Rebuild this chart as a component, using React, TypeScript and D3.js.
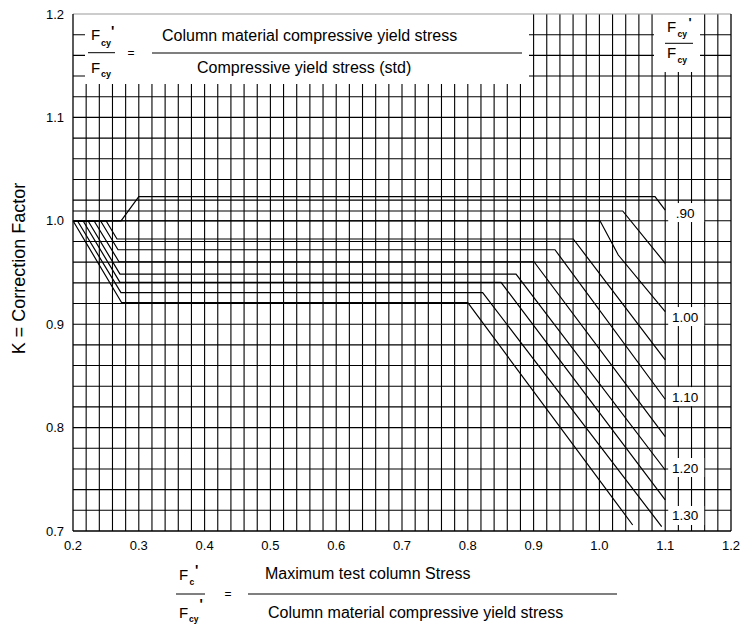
import { scaleLinear, line, range } from 'd3';

// ---- data ----
const xTicks = [0.2, 0.3, 0.4, 0.5, 0.6, 0.7, 0.8, 0.9, 1.0, 1.1, 1.2];
const yTicks = [0.7, 0.8, 0.9, 1.0, 1.1, 1.2];

// each curve: [Fc'/Fcy', K] break points, one per Fcy'/Fcy ratio
const curve090: [number, number][] = [[0.2, 1.0], [0.273, 1.0], [0.3, 1.0233], [1.0845, 1.0233], [1.1, 1.0104]];
const curve095: [number, number][] = [[0.2, 1.0095], [1.0354, 1.0095], [1.1, 0.9589]];
const curve100: [number, number][] = [[0.2, 1.0], [1.0009, 1.0], [1.0287, 0.9669], [1.1, 0.9121]];
const curve105: [number, number][] = [[0.2, 1.0], [0.2502, 1.0], [0.2669, 0.9824], [0.9603, 0.9824], [1.1, 0.8654]];
const curve110: [number, number][] = [[0.2, 1.0], [0.2418, 1.0], [0.2684, 0.972], [0.9325, 0.972], [1.1, 0.8274]];
const curve115: [number, number][] = [[0.2, 1.0], [0.2319, 1.0], [0.2699, 0.9604], [0.9006, 0.9604], [1.1, 0.7912]];
const curve120: [number, number][] = [[0.2, 1.0], [0.2228, 1.0], [0.2714, 0.9485], [0.8733, 0.9485], [1.1, 0.759]];
const curve125: [number, number][] = [[0.2, 1.0], [0.2152, 1.0], [0.2714, 0.9405], [0.8505, 0.9405], [1.1, 0.73]];
const curve130: [number, number][] = [[0.2, 1.0], [0.2067, 1.0], [0.2729, 0.9305], [0.8226, 0.9305], [1.0947, 0.7042]];
const curve135: [number, number][] = [[0.2, 1.0], [0.274, 0.9208], [0.8, 0.9208], [1.0506, 0.7058]];

const curves = [curve090, curve095, curve100, curve105, curve110, curve115, curve120, curve125, curve130, curve135];

// ratio labels and the K level they sit at (right of x = 1.1)
const curveLabelText = ['.90', '1.00', '1.10', '1.20', '1.30'];
const curveLabelK = [1.008, 0.9074, 0.83, 0.7614, 0.715];

const FONT = 'Arial, "Liberation Sans", Helvetica, sans-serif';

export default function App() {
  const width = 752;
  const height = 633;
  const margin = { top: 14, right: 21, bottom: 102, left: 73 };

  const x = scaleLinear().domain([0.2, 1.2]).range([margin.left, width - margin.right]);
  const y = scaleLinear().domain([0.7, 1.2]).range([height - margin.bottom, margin.top]);

  const gridX = range(11, 60).map((i) => i / 50);
  const gridY = range(36, 60).map((i) => i / 50);

  const lineGen = line<[number, number]>()
    .x((d) => x(d[0]))
    .y((d) => y(d[1]));

  const x0 = x(0.2);
  const x1 = x(1.2);
  const y0 = y(0.7);
  const y1 = y(1.2);

  return (
    <div style={{ position: 'absolute', left: 0, top: 0, background: '#fff' }}>
      <svg width={width} height={height} style={{ display: 'block', fontFamily: FONT }}>
        <rect width={width} height={height} fill="#fff" />

        {/* grid */}
        <g stroke="#000" strokeWidth={1.1}>
          {gridX.map((v) => (
            <line key={`gx${v}`} x1={x(v)} x2={x(v)} y1={y0} y2={y1} />
          ))}
          {gridY.map((v) => (
            <line key={`gy${v}`} x1={x0} x2={x1} y1={y(v)} y2={y(v)} />
          ))}
        </g>

        {/* blank panels holding the definitions */}
        <rect x={85} y={y1} width={444} height={70} fill="#fff" />
        <rect x={654} y={y1} width={46} height={58} fill="#fff" />

        {/* frame */}
        <line x1={x0} x2={x1} y1={y1} y2={y1} stroke="#999" strokeWidth={1} />
        <line x1={x0} x2={x0} y1={y1} y2={y0} stroke="#000" strokeWidth={1.3} />
        <line x1={x1} x2={x1} y1={y1} y2={y0} stroke="#000" strokeWidth={1.3} />
        <line x1={x0} x2={x1} y1={y0} y2={y0} stroke="#000" strokeWidth={1.3} />

        {/* curves */}
        <g fill="none" stroke="#000" strokeWidth={1.2}>
          {curves.map((c, i) => (
            <path key={i} d={lineGen(c) || ''} />
          ))}
        </g>

        {/* curve labels */}
        {curveLabelText.map((t, i) => {
          const cy = y(curveLabelK[i]);
          const cx = x(1.1) + 20;
          return (
            <g key={t}>
              <rect x={cx - 17} y={cy - 9.5} width={36} height={19} fill="#fff" />
              <text x={cx} y={cy + 5} textAnchor="middle" fontSize={13.5} fill="#000">
                {t}
              </text>
            </g>
          );
        })}

        {/* axis tick labels */}
        {xTicks.map((v) => (
          <text key={`xt${v}`} x={x(v)} y={y0 + 19} textAnchor="middle" fontSize={13} fill="#000">
            {v.toFixed(1)}
          </text>
        ))}
        {yTicks.map((v) => (
          <text key={`yt${v}`} x={x0 - 9} y={y(v) + 4.5} textAnchor="end" fontSize={13} fill="#000">
            {v.toFixed(1)}
          </text>
        ))}

        {/* y axis title */}
        <text transform={`translate(25,${(y0 + y1) / 2 - 4}) rotate(-90)`} textAnchor="middle" fontSize={18} fill="#000">
          K = Correction Factor
        </text>

        {/* top-left definition: Fcy'/Fcy */}
        <g fill="#000">
          <text x={91} y={40} fontSize={15}>F</text>
          <text x={101} y={46} fontSize={9} fontWeight="bold">cy</text>
          <text x={111} y={36} fontSize={14} fontWeight="bold">'</text>
          <line x1={88} x2={115} y1={52.7} y2={52.7} stroke="#000" strokeWidth={1} />
          <text x={91} y={73} fontSize={15}>F</text>
          <text x={101} y={77} fontSize={9} fontWeight="bold">cy</text>
          <text x={131} y={57} fontSize={12} textAnchor="middle">=</text>
          <line x1={152} x2={522} y1={53} y2={53} stroke="#000" strokeWidth={1.2} />
          <text x={162} y={41} fontSize={16}>Column material compressive yield stress</text>
          <text x={197} y={73} fontSize={16}>Compressive yield stress (std)</text>
        </g>

        {/* top-right key: Fcy'/Fcy */}
        <g fill="#000">
          <text x={667} y={32} fontSize={15}>F</text>
          <text x={677.5} y={37} fontSize={8.5} fontWeight="bold">cy</text>
          <text x={688.5} y={27} fontSize={13} fontWeight="bold">'</text>
          <line x1={665} x2={693} y1={43.3} y2={43.3} stroke="#000" strokeWidth={1} />
          <text x={667} y={58} fontSize={15}>F</text>
          <text x={677.5} y={63} fontSize={8.5} fontWeight="bold">cy</text>
        </g>

        {/* bottom definition: Fc'/Fcy' */}
        <g fill="#000">
          <text x={179} y={580} fontSize={15}>F</text>
          <text x={189.5} y={585} fontSize={8.5} fontWeight="bold">c</text>
          <text x={195} y={575} fontSize={14} fontWeight="bold">'</text>
          <line x1={176} x2={205} y1={594} y2={594} stroke="#000" strokeWidth={1} />
          <text x={179} y={618} fontSize={15}>F</text>
          <text x={189} y={622} fontSize={8.5} fontWeight="bold">cy</text>
          <text x={199.5} y={609} fontSize={14} fontWeight="bold">'</text>
          <text x={228} y={598} fontSize={12} textAnchor="middle">=</text>
          <line x1={248} x2={617} y1={594} y2={594} stroke="#000" strokeWidth={1.2} />
          <text x={265} y={579} fontSize={16}>Maximum test column Stress</text>
          <text x={268} y={618} fontSize={16}>Column material compressive yield stress</text>
        </g>
      </svg>
    </div>
  );
}
